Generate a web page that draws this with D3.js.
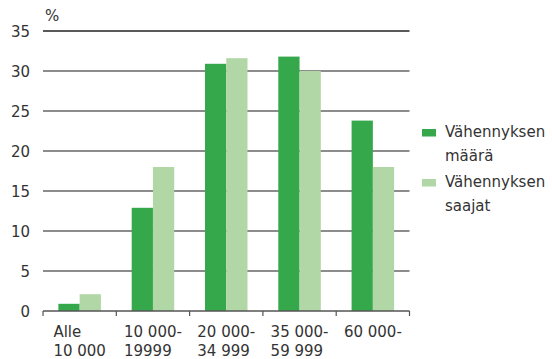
<!DOCTYPE html>
<html><head><meta charset="utf-8">
<script src="https://cdn.jsdelivr.net/npm/d3@7"></script>
<style>body{margin:0;background:#fff}svg{display:block}text{font-family:"DejaVu Sans",sans-serif;fill:#333}</style>
</head><body><svg id="c" width="552" height="359"></svg>
<script>
const categories = [["Alle","10 000"],["10 000-","19999"],["20 000-","34 999"],["35 000-","59 999"],["60 000-"]];
const seriesNames = [["Vähennyksen","määrä"],["Vähennyksen","saajat"]];
const maara = [0.9, 12.9, 30.9, 31.8, 23.8];
const saajat = [2.1, 18.0, 31.6, 30.0, 18.0];
const yTicks = [0,5,10,15,20,25,30,35];
const colors = ["#34a84a","#b1d7a6"];

const svg = d3.select("#c");
const fs = 15;
const x = d3.scaleBand().domain(d3.range(categories.length)).range([43,409.5]).paddingInner(0.42).paddingOuter(0.21);
const x0 = d3.scaleBand().domain(d3.range(categories.length)).range([43,409.5]);
const y = d3.scaleLinear().domain([0,35]).range([311,31]);
const xs = d3.scaleBand().domain([0,1]).range([0,x.bandwidth()]);

// gridlines
svg.append("g").selectAll("line").data(yTicks.filter(d=>d>0)).join("line")
  .attr("x1",43).attr("x2",409.5).attr("y1",d=>y(d)).attr("y2",d=>y(d))
  .attr("stroke",d=>d===35?"#222":"#666").attr("stroke-width",1.4);

// bars
const series=[maara,saajat];
series.forEach((s,si)=>{
  svg.append("g").selectAll("rect").data(s).join("rect")
    .attr("x",(d,i)=>x(i)+xs(si)).attr("width",xs.bandwidth())
    .attr("y",d=>y(d)).attr("height",d=>y(0)-y(d)).attr("fill",colors[si]);
});

// x axis
const xa = svg.append("g").attr("transform","translate(0,311)");
xa.append("line").attr("x1",43).attr("x2",409.5).attr("stroke","#555").attr("stroke-width",1.4);
xa.selectAll("line.t").data(d3.range(categories.length+1)).join("line").attr("class","t")
  .attr("x1",i=>43+i*x0.step()).attr("x2",i=>43+i*x0.step()).attr("y1",0).attr("y2",5)
  .attr("stroke","#555").attr("stroke-width",1.2);
categories.forEach((lines,i)=>{
  const g = xa.append("g");
  const ts = lines.map((l,k)=>g.append("text").attr("y",26+k*18.5).attr("font-size",fs).text(l));
  const w = d3.max(ts,t=>t.node().getComputedTextLength());
  const cx = x0(i)+x0.bandwidth()/2;
  ts.forEach(t=>t.attr("x",cx-w/2));
});

// y labels
svg.append("g").selectAll("text").data(yTicks).join("text")
  .attr("x",30).attr("y",d=>y(d)+5.5).attr("text-anchor","end").attr("font-size",fs).text(d=>d);
svg.append("text").attr("x",45).attr("y",21).attr("font-size",fs).text("%");

// legend
seriesNames.forEach((lines,i)=>{
  const gy = 129 + i*50;
  svg.append("rect").attr("x",422).attr("y",gy).attr("width",14).attr("height",7.5).attr("fill",colors[i]);
  lines.forEach((l,k)=>svg.append("text").attr("x",445).attr("y",gy+8+k*23.5).attr("font-size",fs).text(l));
});
</script></body></html>
